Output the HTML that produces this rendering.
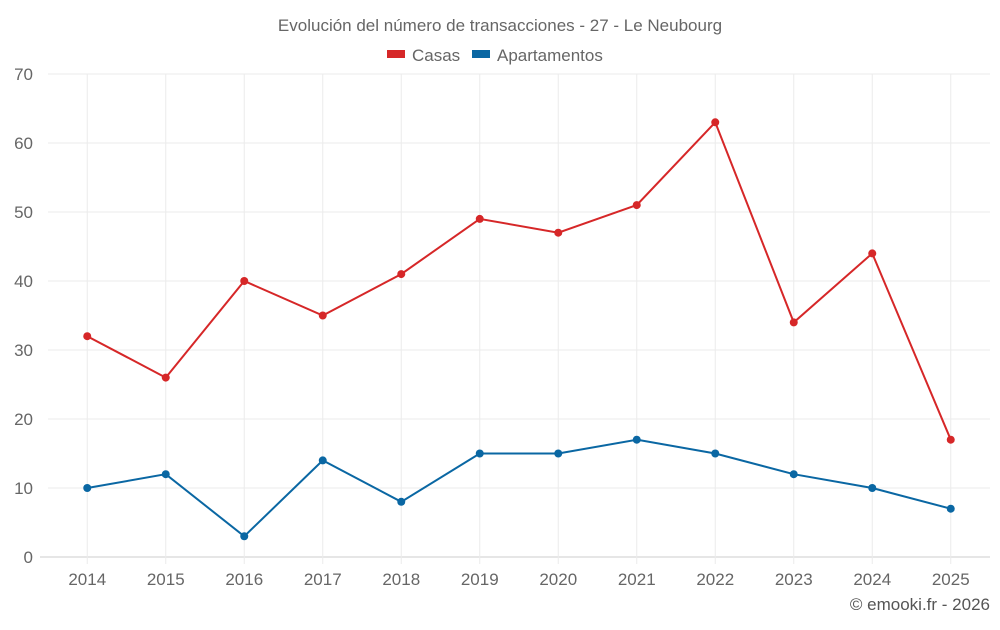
<!DOCTYPE html>
<html><head><meta charset="utf-8"><style>
body{margin:0;background:#fff;font-family:"Liberation Sans",sans-serif}
svg text{font-family:"Liberation Sans",sans-serif}
</style></head><body>
<svg id="chart" width="1000" height="625" xmlns="http://www.w3.org/2000/svg">
<text x="500" y="31" text-anchor="middle" font-size="17" fill="#666">Evolución del número de transacciones - 27 - Le Neubourg</text>
<g>
<g><rect x="387" y="50" width="18" height="8" fill="#d62728"/><text x="412" y="61" font-size="17" fill="#666">Casas</text></g>
<g><rect x="472" y="50" width="18" height="8" fill="#0a67a3"/><text x="497" y="61" font-size="17" fill="#666">Apartamentos</text></g>
</g>
<g id="grid"></g><g id="axes"></g><g id="series"></g>
<text x="990" y="610" text-anchor="end" font-size="17" fill="#555">© emooki.fr - 2026</text>
</svg>
<script>
const years=["2014","2015","2016","2017","2018","2019","2020","2021","2022","2023","2024","2025"];
const casas=[32,26,40,35,41,49,47,51,63,34,44,17];
const apartamentos=[10,12,3,14,8,15,15,17,15,12,10,7];
const yTicks=[0,10,20,30,40,50,60,70];
const L=48,R=990,T=74,B=557,yMax=70;
const NS="http://www.w3.org/2000/svg";
const bw=(R-L)/years.length;
const x=i=>L+bw*(i+0.5);
const y=v=>B-(v/yMax)*(B-T);
function mk(tag,attrs,parent,txt){const e=document.createElementNS(NS,tag);for(const k in attrs)e.setAttribute(k,attrs[k]);if(txt!==undefined)e.textContent=txt;parent.appendChild(e);return e;}
const grid=document.getElementById('grid'),axes=document.getElementById('axes'),ser=document.getElementById('series');
yTicks.forEach(t=>{
 const l=mk('line',{x1:t===0?40:L,x2:R,y1:y(t),y2:y(t),stroke:t===0?'#ccc':'#ebebeb','stroke-width':1},grid);
 
 
 const tx=mk('text',{x:33,y:y(t)+6,'text-anchor':'end','font-size':17,fill:'#666'},axes,t);
 
 
});
years.forEach((yr,i)=>{
 const l=mk('line',{x1:x(i),x2:x(i),y1:T,y2:B+7,stroke:'#ebebeb','stroke-width':1},grid);
 
 
 const tx=mk('text',{x:x(i),y:585,'text-anchor':'middle','font-size':17,fill:'#666'},axes,yr);
 
 
});
[[casas,'#d62728','casas'],[apartamentos,'#0a67a3','apartamentos']].forEach(([d,c,n])=>{
 const p=mk('polyline',{points:d.map((v,i)=>x(i)+','+y(v)).join(' '),fill:'none',stroke:c,'stroke-width':2},ser);
 
 
 d.forEach((v,i)=>{
  const ci=mk('circle',{cx:x(i),cy:y(v),r:4,fill:c},ser);
  
  
 });
});
</script>
</body></html>
